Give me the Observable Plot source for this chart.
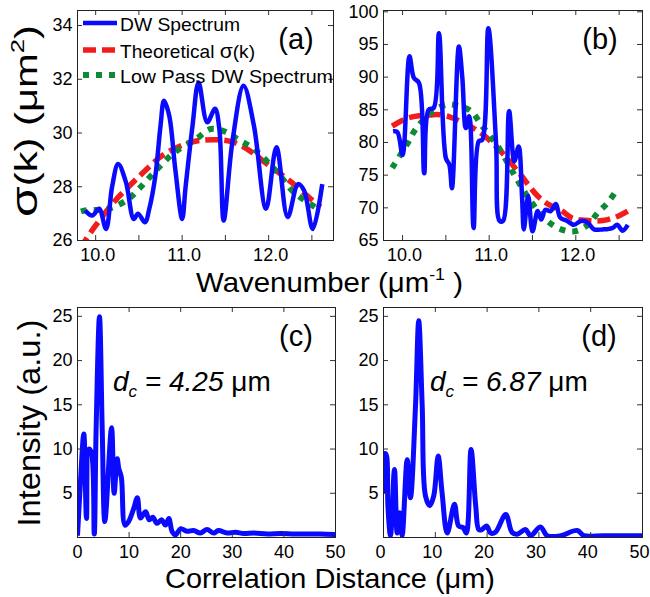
<!DOCTYPE html>
<html><head><meta charset="utf-8">
<script src="https://cdn.jsdelivr.net/npm/d3@7"></script>
<script src="https://cdn.jsdelivr.net/npm/@observablehq/plot@0.6"></script>
<style>
html,body{margin:0;padding:0;background:#fff;}
#fig{position:relative;width:650px;height:597px;overflow:hidden;}
#fig > svg{position:absolute;}
</style></head><body><div id="fig"></div>
<script>
// ---------- data ----------
// Panel (a)
const aBlueK = [9.88, 9.96, 10.04, 10.12, 10.19, 10.26, 10.35, 10.44, 10.49, 10.57, 10.62, 10.69, 10.75, 10.79, 10.85, 10.92, 11.0, 11.04, 11.12, 11.19, 11.29, 11.38, 11.43, 11.48, 11.58, 11.71, 11.83, 11.97, 12.09, 12.22, 12.34, 12.41, 12.51, 12.62];
const aBlueS = [27.12, 26.93, 27.18, 26.43, 28.0, 28.85, 28.17, 26.8, 27.0, 26.68, 27.18, 28.4, 30.27, 31.2, 30.65, 28.67, 26.8, 28.0, 30.27, 31.88, 30.4, 30.9, 30.15, 26.74, 29.65, 31.76, 30.27, 27.18, 29.47, 26.87, 28.1, 27.86, 26.43, 28.1];
const aRedK = [9.82, 9.88, 10.0, 10.23, 10.35, 10.54, 10.77, 11.04, 11.2, 11.4, 11.6, 11.8, 11.98, 12.15, 12.29, 12.45, 12.6];
const aRedS = [25.7, 26.0, 26.56, 27.5, 27.9, 28.5, 29.16, 29.6, 29.72, 29.75, 29.65, 29.3, 28.85, 28.45, 28.1, 27.65, 27.24];
const aGreenK = [9.83, 9.88, 10.15, 10.38, 10.5, 10.73, 10.92, 11.16, 11.33, 11.5, 11.64, 11.83, 12.1, 12.29, 12.6];
const aGreenS = [27.08, 27.12, 27.18, 27.55, 27.92, 28.72, 29.3, 29.77, 30.15, 30.05, 29.77, 29.4, 28.54, 27.8, 27.12];
// Panel (b)
const bBlueK = [9.89, 9.94, 10.0, 10.08, 10.13, 10.19, 10.25, 10.30, 10.36, 10.42, 10.50, 10.54, 10.57, 10.65, 10.69, 10.73, 10.77, 10.82, 10.88, 10.92, 10.99, 11.08, 11.12, 11.16, 11.23, 11.29, 11.34, 11.38, 11.40, 11.45, 11.50, 11.56, 11.60, 11.65, 11.71, 11.77, 11.82, 11.90, 11.98, 12.06, 12.14, 12.21, 12.31, 12.42, 12.48, 12.54, 12.60];
const bBlueS = [81.7, 81.6, 78.1, 93.2, 89.9, 89.1, 75.3, 85.0, 85.3, 96.7, 77.6, 76.6, 73.0, 94.7, 89.9, 82.2, 84.0, 66.9, 80.2, 80.4, 97.5, 79.7, 68.0, 68.0, 84.8, 77.1, 79.4, 71.5, 66.7, 71.8, 66.4, 69.5, 68.2, 69.7, 69.5, 70.6, 68.5, 68.0, 67.4, 68.0, 67.7, 66.7, 66.7, 66.9, 67.4, 66.5, 67.4];
const bRedK = [9.88, 10.05, 10.2, 10.32, 10.4, 10.55, 10.67, 10.9, 11.13, 11.36, 11.56, 11.7, 11.83, 11.96, 12.1, 12.25, 12.37, 12.5, 12.6];
const bRedS = [82.5, 83.7, 84.1, 84.2, 84.3, 83.9, 83.2, 81.5, 78.7, 75.1, 71.8, 70.4, 69.6, 68.4, 68.1, 68.0, 68.2, 68.8, 69.5];
const bGreenK = [9.88, 10.05, 10.15, 10.35, 10.52, 10.67, 10.79, 10.92, 11.11, 11.31, 11.48, 11.67, 11.83, 11.98, 12.14, 12.25, 12.37, 12.46];
const bGreenS = [76.1, 79.7, 82.0, 84.8, 85.8, 85.5, 84.8, 82.5, 79.2, 74.6, 71.0, 68.0, 66.7, 66.4, 67.4, 69.2, 70.8, 72.5];
// Panel (c)
const cD = [0, 0.55, 1.22, 1.74, 2.2, 2.7, 3.25, 3.6, 4.26, 4.8, 5.3, 6.6, 7.1, 7.7, 8.0, 8.5, 9.2, 9.9, 10.9, 11.6, 12.2, 13.2, 13.9, 14.6, 15.4, 16.3, 17.05, 17.7, 18.35, 19.0, 20.0, 21.2, 22.5, 23.8, 25.1, 26.4, 27.3, 29.0, 30.6, 32.2, 34.2, 36.8, 39.4, 42, 44.5, 47, 50];
const cI = [0.2, 6.0, 11.7, 2.15, 10.0, 9.6, 0.4, 12.0, 24.95, 12.0, 1.8, 12.4, 5.0, 8.9, 7.8, 6.8, 1.4, 1.8, 3.3, 4.5, 2.2, 2.9, 2.0, 2.3, 1.6, 2.0, 1.4, 2.15, 0.65, 0.3, 1.0, 0.7, 0.8, 0.5, 0.9, 0.5, 0.8, 0.5, 0.6, 0.45, 0.5, 0.4, 0.45, 0.4, 0.4, 0.4, 0.35];
// Panel (d)
const dD = [0.05, 0.3, 0.6, 0.85, 1.35, 2.12, 2.64, 3.15, 3.6, 4.57, 5.2, 6.18, 6.8, 7.47, 8.1, 8.94, 9.7, 10.55, 11.3, 12.3, 13.7, 14.5, 15.4, 16.0, 16.9, 17.8, 18.4, 19.0, 19.9, 20.7, 21.6, 23.6, 24.8, 25.8, 27.4, 28.4, 30.3, 31.6, 34.2, 37.4, 38.7, 42.3, 46, 50];
const dI = [5.0, 9.5, 9.2, 3.6, 0.2, 7.7, 0.5, 2.8, 0.2, 8.8, 4.5, 14.9, 24.5, 14.9, 4.7, 3.6, 4.7, 9.2, 5.1, 0.5, 3.75, 1.3, 1.1, 0.5, 9.95, 3.6, 0.9, 0.9, 1.3, 0.5, 0.6, 2.6, 0.6, 0.36, 0.9, 0.2, 1.2, 0.2, 0.2, 0.8, 0.2, 0.2, 0.2, 0.2];

// tick values / labels
const kTicks = [10, 10.5, 11, 11.5, 12, 12.5];
const kLabels = [10, 11, 12];
const aYTicks = [26, 28, 30, 32, 34];
const bYTicks = [65, 70, 75, 80, 85, 90, 95, 100];
const dTicks = [0, 10, 20, 30, 40, 50];
const iTicks = [5, 10, 15, 20, 25];

const seriesNames = ["DW Spectrum", "Theoretical σ(k)", "Low Pass DW Spectrum"];
const panelLabels = ["(a)", "(b)", "(c)", "(d)"];

// ---------- styling ----------
const FONT = '"Liberation Sans", Arial, Helvetica, sans-serif';
const BLUE = "#0a0aff", RED = "#f21c1c", GREEN = "#0e8a34";
const blueStyle = {stroke: BLUE, strokeWidth: 4.5};
const redStyle = {stroke: RED, strokeWidth: 5.5, strokeDasharray: "13,6"};
const greenStyle = {stroke: GREEN, strokeWidth: 6, strokeDasharray: "6,7"};

const zip = (xs, ys) => xs.slice(0, Math.min(xs.length, ys.length)).map((x, i) => ({x, y: ys[i]}));
const fig = document.getElementById("fig");

function panel(o) {
  const innerW = o.width - o.mL - o.mR, innerH = o.height - o.mT - o.mB;
  const tl = 5, tc = "#333";
  const marks = [];
  for (const L of o.lines) {
    marks.push(Plot.line(L.data, {x: "x", y: "y", curve: "catmull-rom", clip: true,
      strokeLinecap: "butt", strokeLinejoin: "round", ...L.style}));
  }
  marks.push(Plot.ruleX(o.xTicks, {x: d => d, insetTop: innerH - tl, stroke: tc}));
  marks.push(Plot.ruleX(o.xTicks, {x: d => d, insetBottom: innerH - tl, stroke: tc}));
  marks.push(Plot.ruleY(o.yTicks, {y: d => d, insetRight: innerW - tl, stroke: tc}));
  marks.push(Plot.ruleY(o.yTicks, {y: d => d, insetLeft: innerW - tl, stroke: tc}));
  marks.push(Plot.axisX(o.xLabels, {tickSize: 0, tickPadding: 8, tickFormat: o.xFmt, fontSize: 18, label: null, dx: o.xdx || 0}));
  marks.push(Plot.axisY(o.yLabels, {tickSize: 0, tickPadding: 5, fontSize: 18, label: null}));
  marks.push(Plot.frame({stroke: "#222", strokeWidth: 1}));
  const svg = Plot.plot({
    width: o.width, height: o.height,
    marginLeft: o.mL, marginRight: o.mR, marginTop: o.mT, marginBottom: o.mB,
    x: {domain: o.xDomain, label: null},
    y: {domain: o.yDomain, label: null},
    style: {fontFamily: FONT, fontSize: "18px", color: "#000", background: "transparent", overflow: "visible"},
    marks
  });
  svg.style.left = o.left + "px";
  svg.style.top = o.top + "px";
  fig.appendChild(svg);
}

const f1 = d3.format(".1f");
panel({left: 0, top: 0, width: 340, height: 275, mL: 77, mR: 7, mT: 10, mB: 35,
  xDomain: [9.79, 12.75], yDomain: [26, 34.56], xTicks: kTicks, xLabels: kLabels, xFmt: f1, xdx: 2,
  yTicks: aYTicks, yLabels: aYTicks,
  lines: [{data: zip(aRedK, aRedS), style: redStyle}, {data: zip(aGreenK, aGreenS), style: greenStyle}, {data: zip(aBlueK, aBlueS), style: blueStyle}]});
panel({left: 340, top: 0, width: 310, height: 275, mL: 43, mR: 8, mT: 10, mB: 35,
  xDomain: [9.78, 12.77], yDomain: [65, 100.2], xTicks: kTicks, xLabels: kLabels, xFmt: f1, xdx: 2,
  yTicks: bYTicks, yLabels: bYTicks,
  lines: [{data: zip(bRedK, bRedS), style: redStyle}, {data: zip(bGreenK, bGreenS), style: greenStyle}, {data: zip(bBlueK, bBlueS), style: blueStyle}]});
panel({left: 0, top: 297, width: 340, height: 270, mL: 77, mR: 5, mT: 10, mB: 30,
  xDomain: [0, 50], yDomain: [0, 26], xTicks: dTicks, xLabels: dTicks, xFmt: d3.format("d"),
  yTicks: iTicks, yLabels: iTicks,
  lines: [{data: zip(cD, cI), style: {stroke: BLUE, strokeWidth: 5}}]});
panel({left: 340, top: 297, width: 310, height: 270, mL: 43, mR: 8, mT: 10, mB: 30,
  xDomain: [0, 50], yDomain: [0, 26], xTicks: dTicks, xLabels: dTicks, xFmt: d3.format("d"), xdx: -3,
  yTicks: iTicks, yLabels: iTicks,
  lines: [{data: zip(dD, dI), style: {stroke: BLUE, strokeWidth: 5}}]});

// ---------- overlay: titles, legend, annotations ----------
const ov = d3.create("svg").attr("width", 650).attr("height", 597)
  .attr("font-family", FONT).attr("fill", "#000")
  .style("left", "0px").style("top", "0px");

// y title (top)
const t1 = ov.append("text").attr("transform", "translate(37,121) rotate(-90)")
  .attr("text-anchor", "middle").attr("font-size", 31)
  .attr("textLength", 192).attr("lengthAdjust", "spacingAndGlyphs");
t1.append("tspan").attr("font-size", 37).text("σ");
t1.append("tspan").text("(k) (μm");
t1.append("tspan").attr("font-size", 19).attr("dy", -13).text("2");
t1.append("tspan").attr("dy", 13).text(")");

// x title (top)
const t2 = ov.append("text").attr("x", 196).attr("y", 292).attr("font-size", 28)
  .attr("textLength", 267).attr("lengthAdjust", "spacingAndGlyphs");
t2.append("tspan").text("Wavenumber (μm");
t2.append("tspan").attr("font-size", 17).attr("dy", -12).text("-1");
t2.append("tspan").attr("dy", 12).text(" )");

// y title (bottom)
ov.append("text").attr("transform", "translate(40,423) rotate(-90)")
  .attr("text-anchor", "middle").attr("font-size", 31)
  .attr("textLength", 207).attr("lengthAdjust", "spacingAndGlyphs")
  .text("Intensity (a.u.)");

// x title (bottom)
ov.append("text").attr("x", 165).attr("y", 588).attr("font-size", 28)
  .attr("textLength", 330).attr("lengthAdjust", "spacingAndGlyphs")
  .text("Correlation Distance (μm)");

// panel labels
const plPos = [[296, 49], [600, 49], [296, 346], [599, 346]];
panelLabels.forEach((s, i) => ov.append("text").attr("x", plPos[i][0]).attr("y", plPos[i][1])
  .attr("text-anchor", "middle").attr("font-size", 29).text(s));

// legend (panel a)
const legY = [23, 50, 75];
const legStyles = [blueStyle, redStyle, greenStyle];
const legLen = [120, 135, 213];
seriesNames.forEach((s, i) => {
  const st = legStyles[i];
  ov.append("line").attr("x1", 83).attr("x2", 117).attr("y1", legY[i]).attr("y2", legY[i])
    .attr("stroke", st.stroke).attr("stroke-width", st.strokeWidth)
    .attr("stroke-dasharray", st.strokeDasharray || null);
  const t = ov.append("text").attr("x", 120).attr("y", legY[i] + 8).attr("font-size", 19)
    .attr("textLength", legLen[i]).attr("lengthAdjust", "spacingAndGlyphs");
  if (i === 1) {
    t.append("tspan").text("Theoretical ");
    t.append("tspan").attr("font-size", 21).text("σ");
    t.append("tspan").text("(k)");
  } else t.text(s);
});

// d_c annotations
function dc(x, y, val) {
  const t = ov.append("text").attr("x", x).attr("y", y).attr("font-size", 28);
  t.append("tspan").attr("font-style", "italic").text("d");
  t.append("tspan").attr("font-style", "italic").attr("font-size", 17).attr("dy", 6).text("c");
  t.append("tspan").attr("font-style", "italic").attr("dy", -6).text(" = " + val + " ");
  t.append("tspan").text("μm");
}
dc(113, 391, "4.25");
dc(430, 391, "6.87");

fig.appendChild(ov.node());
</script>
</body></html>
